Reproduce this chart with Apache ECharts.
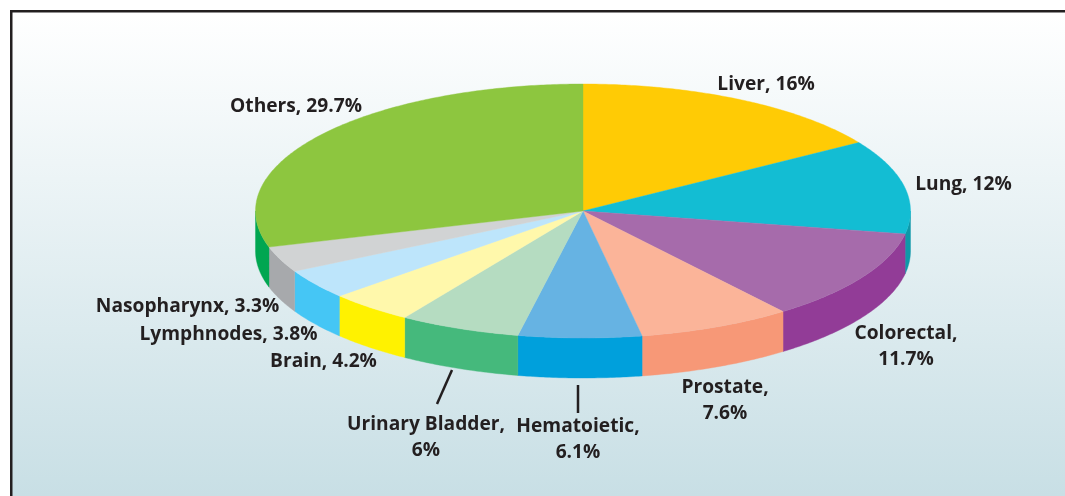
<!DOCTYPE html>
<html><head><meta charset="utf-8">
<style>html,body{margin:0;padding:0;background:#fff}#c{width:1065px;height:496px}</style>
<script src="https://cdn.jsdelivr.net/npm/echarts@6/dist/echarts.min.js"></script>
</head><body><div id="c"></div>
<script>
// Data
const categories = ['Liver','Lung','Colorectal','Prostate','Hematoietic','Urinary Bladder','Brain','Lymphnodes','Nasopharynx','Others'];
const shares = [16,12,11.7,7.6,6.1,6,4.2,3.8,3.3,29.7];
// Styles
const topColors = ['#ffcb05','#13bdd3','#a66bab','#fbb499','#66b3e3','#b5dcc1','#fff8ab','#bde5fb','#d1d3d4','#8dc63f'];
const wallColors = ['#ffb000','#0e98a8','#923c97','#f79877','#00a0dc','#45b97c','#fff200','#45c6f5','#a7a9ac','#00a651'];
const labelBreak = [false,false,true,true,true,true,false,false,false,false];
const labelX = [766,963.5,906,725,578,426,323.5,228.5,187.5,296];
const labelY = [85,185,347,401,440,438,362,335,307,107];
// Pie geometry
const cx = 583, cy = 211, rx = 327.5, ry = 127, depth = 40;
const total = shares.reduce((a,b)=>a+b,0);
const fontFamily = '"Open Sans", "Noto Sans", sans-serif';

function pt(angle, dy){ return [cx + rx*Math.sin(angle), cy - ry*Math.cos(angle) + (dy||0)]; }
function arc(a0, a1, dy){
  const n = Math.max(2, Math.ceil(Math.abs(a1-a0)/0.01)), out = [];
  for(let i=0;i<=n;i++) out.push(pt(a0+(a1-a0)*i/n, dy));
  return out;
}
function renderItem(params, api){
  const i = params.dataIndex, v = api.value(0);
  let before = 0; for(let k=0;k<i;k++) before += shares[k];
  const a0 = before/total*2*Math.PI, a1 = (before+v)/total*2*Math.PI;
  const children = [];
  // front wall: only the part of the rim facing the viewer (PI/2 .. 3PI/2)
  const w0 = Math.max(a0, Math.PI/2), w1 = Math.min(a1, 1.5*Math.PI);
  if(w1 > w0){
    children.push({type:'polygon', z2:1,
      shape:{points: arc(w0,w1,0).concat(arc(w1,w0,depth))},
      style:{fill:wallColors[i], stroke:wallColors[i], lineWidth:0.4}});
  }
  children.push({type:'polygon', z2:2,
    shape:{points: [[cx,cy]].concat(arc(a0,a1,0))},
    style:{fill:topColors[i], stroke:topColors[i], lineWidth:0.4}});
  const name = categories[i];
  children.push({type:'text', z2:5,
    style:{x:labelX[i], y:labelY[i],
      text: name + ',' + (labelBreak[i] ? '\n' : ' ') + v + '%',
      fill:'#231f20', font:'700 19.2px '+fontFamily, align:'center', verticalAlign:'middle', lineHeight:26}});
  return {type:'group', children};
}
const chart = echarts.init(document.getElementById('c'), null, {renderer:'canvas'});
chart.setOption({
  animation:false,
  graphic:[
    {type:'rect', z:-10, shape:{x:10,y:10,width:1070,height:500},
      style:{fill:'#231f20'}},
    {type:'rect', z:-9, shape:{x:12.5,y:12.5,width:1070,height:500},
      style:{fill:new echarts.graphic.LinearGradient(0,0,0,1,[
        {offset:0,color:'#ffffff'},{offset:0.967,color:'#c8dfe5'},{offset:1,color:'#c8dfe5'}])}},
    {type:'line', z:20, shape:{x1:452,y1:370,x2:437,y2:404}, style:{stroke:'#231f20',lineWidth:2.5}},
    {type:'line', z:20, shape:{x1:578,y1:385,x2:578,y2:413}, style:{stroke:'#231f20',lineWidth:2.5}}
  ],
  series:[{
    type:'custom', coordinateSystem:'none', renderItem,
    data: shares.map((v,i)=>({name:categories[i], value:[v]}))
  }]
});
</script></body></html>
